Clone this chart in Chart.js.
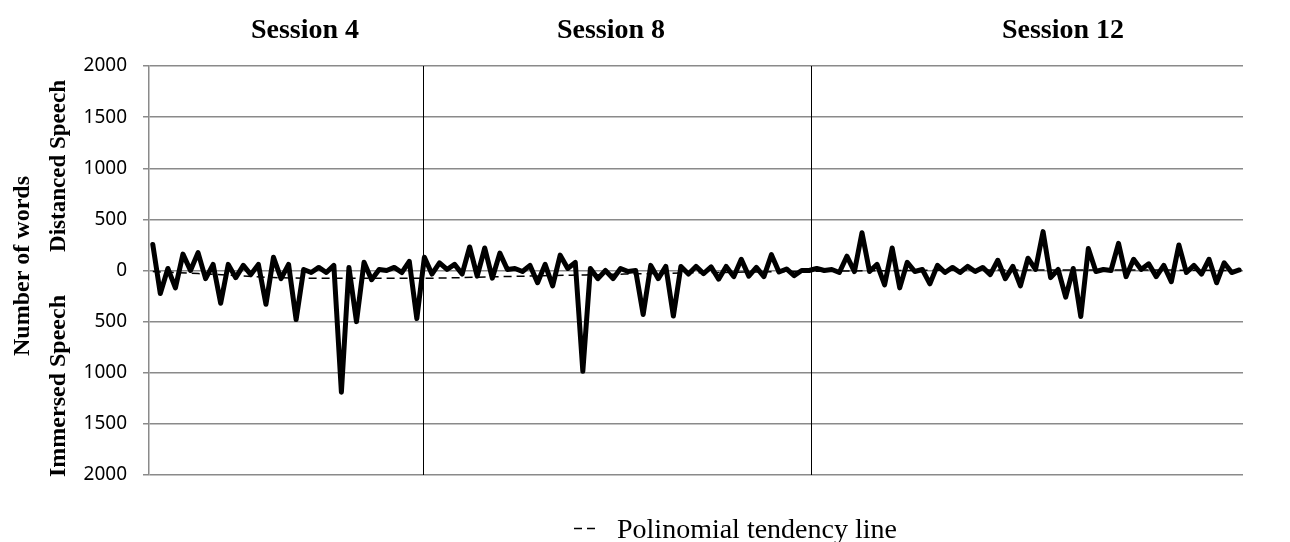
<!DOCTYPE html>
<html><head><meta charset="utf-8">
<script src="https://cdn.jsdelivr.net/npm/chart.js@4.4.0/dist/chart.umd.min.js"></script>
<style>html,body{margin:0;padding:0;background:#fff;overflow:hidden}#wrap{width:1290px;height:542px;position:relative}</style>
</head><body><div id="wrap"><canvas id="c" width="1290" height="542"></canvas></div>
<script>
// ---- data ----
const wordDiff = [
  255,-225,20,-170,160,0,175,-80,60,-320,60,-70,50,-40,60,-330,130,-80,60,-480,
  10,-20,30,-20,50,-1190,30,-500,80,-90,10,0,30,-20,90,-470,130,-35,75,10,
  60,-35,230,-55,220,-75,170,10,20,-10,50,-120,60,-150,150,20,80,-985,20,-80,
  0,-80,20,-10,0,-430,50,-80,40,-445,40,-35,40,-30,35,-85,40,-60,110,-55,
  30,-60,155,-15,15,-50,0,0,20,0,10,-20,140,-10,370,-10,60,-140,220,-170,
  80,-10,10,-130,50,-20,30,-20,40,-10,30,-40,100,-80,40,-150,120,10,380,-70,
  10,-260,20,-450,215,-10,10,0,265,-60,110,10,65,-60,50,-110,250,-20,50,-35,
  110,-120,75,-20,5
];
const trendIdx = [0, 6, 20, 36, 46, 56, 70, 85, 100, 115, 130, 144];
const trendVal = [-10, -30, -75, -75, -60, -45, -25, -10, 0, 5, 5, 0];
const yTickValues = [-2000, -1500, -1000, -500, 0, 500, 1000, 1500, 2000];
const sessionNames = ['Session 4', 'Session 8', 'Session 12'];
const sessionBreaks = [35.8, 87.3];
const yTitle = 'Number of words';
const yUpper = 'Distanced Speech';
const yLower = 'Immersed Speech';
const trendName = 'Polinomial tendency line';

// ---- build ----
const categories = wordDiff.map((_, i) => String(i + 1));
const trendData = categories.map(() => null);
trendIdx.forEach((ix, k) => { trendData[ix] = trendVal[k]; });

const GRID = '#8a8a8a';
const SERIF = '"Liberation Serif", "Times New Roman", serif';

const decor = {
  id: 'decor',
  beforeDatasetsDraw(chart) {
    const ctx = chart.ctx, a = chart.chartArea, x = chart.scales.x;
    ctx.save();
    ctx.strokeStyle = '#000';
    ctx.lineWidth = 1;
    sessionBreaks.forEach(b => {
      const px = Math.round(x.getPixelForValue(b)) + 0.5;
      ctx.beginPath(); ctx.moveTo(px, a.top); ctx.lineTo(px, a.bottom); ctx.stroke();
    });
    ctx.restore();
  },
  afterDraw(chart) {
    const ctx = chart.ctx;
    ctx.save();
    ctx.fillStyle = '#000';
    ctx.font = 'bold 28px ' + SERIF;
    ctx.textAlign = 'center';
    ctx.textBaseline = 'middle';
    const sx = [305, 611, 1063];
    sessionNames.forEach((s, i) => ctx.fillText(s, sx[i], 31));
    const rot = (txt, cx, cy, size) => {
      ctx.save();
      ctx.translate(cx, cy);
      ctx.rotate(-Math.PI / 2);
      ctx.font = 'bold ' + size + 'px ' + SERIF;
      ctx.textAlign = 'center';
      ctx.textBaseline = 'middle';
      ctx.fillText(txt, 0, 0);
      ctx.restore();
    };
    rot(yTitle, 23, 266, 24);
    rot(yUpper, 59, 166, 23);
    rot(yLower, 59, 386, 24);
    ctx.strokeStyle = '#000';
    ctx.lineWidth = 1.5;
    ctx.setLineDash([8, 5]);
    ctx.beginPath(); ctx.moveTo(574, 528.5); ctx.lineTo(600, 528.5); ctx.stroke();
    ctx.setLineDash([]);
    ctx.font = '28px ' + SERIF;
    ctx.textAlign = 'left';
    ctx.textBaseline = 'alphabetic';
    ctx.fillText(trendName, 617, 538);
    ctx.restore();
  }
};

new Chart(document.getElementById('c'), {
  type: 'line',
  data: {
    labels: categories,
    datasets: [
      {
        label: 'Words', data: wordDiff, order: 0,
        borderColor: '#000', borderWidth: 5, pointRadius: 0,
        borderJoinStyle: 'round', borderCapStyle: 'round', tension: 0, fill: false
      },
      {
        label: trendName, data: trendData, order: 1, spanGaps: true,
        borderColor: '#000', borderWidth: 1.5, borderDash: [8, 5], pointRadius: 0,
        cubicInterpolationMode: 'monotone', fill: false
      }
    ]
  },
  options: {
    responsive: false, animation: false, devicePixelRatio: 1,
    layout: { padding: { left: 0, right: 47, top: 66, bottom: 67 } },
    plugins: { legend: { display: false }, tooltip: { enabled: false }, title: { display: false } },
    scales: {
      x: { type: 'category', display: false, offset: true },
      y: {
        min: -2000, max: 2000,
        afterBuildTicks(s) { s.ticks = yTickValues.map(v => ({ value: v })); },
        afterFit(s) { s.width = 149; },
        border: { display: true, color: GRID, width: 1.5 },
        grid: { color: GRID, lineWidth: 1.5, tickLength: 6, drawTicks: true },
        ticks: {
          color: '#000', padding: 16,
          font: { family: '"Noto Sans", sans-serif', size: 19 },
          callback: v => String(Math.abs(v))
        }
      }
    }
  },
  plugins: [decor]
});
</script></body></html>
